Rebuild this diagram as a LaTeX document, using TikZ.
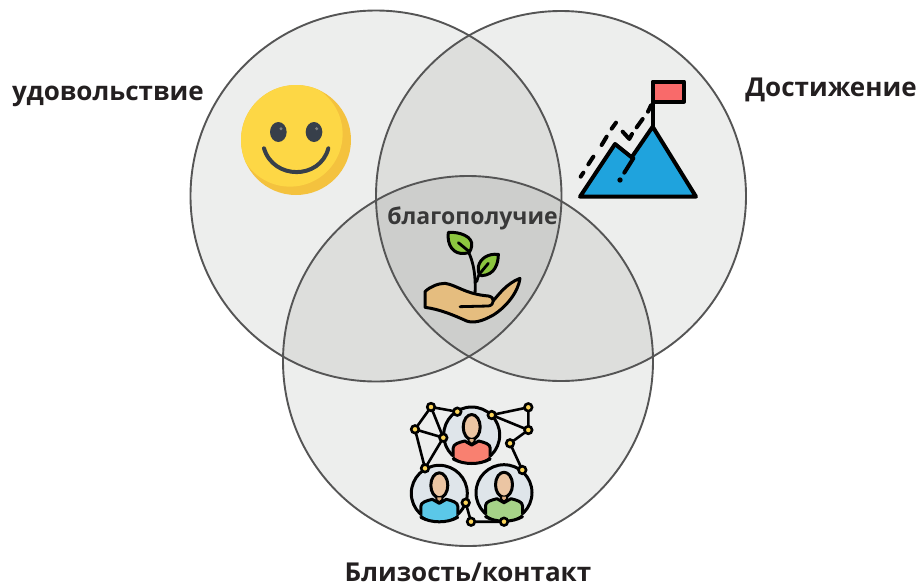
\documentclass[tikz,border=0pt]{standalone}
\usepackage{fontspec}
\setmainfont{Open Sans}
\definecolor{txt}{HTML}{231F20}
\definecolor{ring}{HTML}{555555}
\definecolor{skin}{HTML}{EBC5A3}
\definecolor{discfill}{HTML}{DFE5EA}
\definecolor{shirtred}{HTML}{F98070}
\definecolor{shirtblue}{HTML}{5BC8E8}
\definecolor{shirtgreen}{HTML}{A6D388}
\definecolor{knotfill}{HTML}{FCD55A}
\definecolor{tint}{HTML}{040C02}
\tikzset{
  venn/.style={draw=none,fill=tint,fill opacity=.07},
  vennline/.style={draw=ring,line width=1.9pt},
  label/.style={font=\bfseries\fontsize{26}{30}\selectfont,text=txt,inner sep=0pt,anchor=center},
  icon/.style={x=.33333pt,y=-.33333pt,line join=round,line cap=round},
  ink/.style={draw=black,line width=3pt},
  knot/.style={draw=black,line width=2.6pt,fill=knotfill},
  edge/.style={draw=black,line width=2.6pt}
}
\newcommand{\personicon}[3]{%
\begin{scope}[shift={(#1pt,-#2pt)},x=1pt,y=-1pt,line join=round,line cap=round]
  \path[ink,fill=discfill] (0,0) circle[radius=28pt];
  \begin{scope}
    \clip (0,0) circle[radius=28pt];
    \path[ink,fill=#3] (-18.5,32) -- (-18.5,13) .. controls (-18.5,9) and (-13,7.5) .. (-7,6) -- (0,10) -- (7,6) .. controls (13,7.5) and (18.5,9) .. (18.5,13) -- (18.5,32) -- cycle;
  \end{scope}
  \path[draw=black,line width=3pt] (-18.5,24) .. controls (-8,30) and (8,30) .. (18.5,24);
  \path[ink,fill=skin] (0,-8) ellipse[x radius=8.5pt,y radius=12.5pt];
  \path[draw=black,line width=2pt,fill=skin!70!brown] (-3,4) -- (-3,6.5) -- (0,9) -- (3,6.5) -- (3,4);
\end{scope}}
\begin{document}
\begin{tikzpicture}[x=1pt,y=-1pt]
\useasboundingbox (0,0) rectangle (919,587);
% venn
\path[venn] (376,196) circle[radius=185.5pt];
\path[venn] (561,196) circle[radius=185pt];
\path[venn] (468,361) circle[radius=185pt];
\path[vennline] (376,196) circle[radius=185.5pt];
\path[vennline] (561,196) circle[radius=185pt];
\path[vennline] (468,361) circle[radius=185pt];
% labels
\node[label] (pleasure) at (108,96) {удовольствие};
\node[label] (achieve) at (831,90) {Достижение};
\node[label,font=\bfseries\fontsize{23}{28}\selectfont,text=black!78] (wellbeing) at (472.5,218) {благополучие};
\node[label] (contact) at (468,572) {Близость/контакт};
% smiley
\begin{scope}[shift={(235pt,-80pt)},icon]
  \fill[color={rgb,255:red,244;green,194;blue,62}] (183,180) circle[radius=165];
  \begin{scope}
    \clip (183,180) circle[radius=165];
    \fill[color={rgb,255:red,253;green,215;blue,69}] (165,162) circle[radius=158];
  \end{scope}
  \fill[color={rgb,255:red,55;green,63;blue,74}] (130,156) ellipse[x radius=25,y radius=30];
  \fill[color={rgb,255:red,55;green,63;blue,74}] (237,156) ellipse[x radius=25,y radius=30];
  \fill[gray] (138,146) circle[radius=5];
  \fill[gray] (245,146) circle[radius=5];
  \draw[color={rgb,255:red,55;green,63;blue,74},line width=4pt] (87,205) .. controls (115,300) and (255,300) .. (280,205);
\end{scope}
% mountain
\begin{scope}[shift={(570pt,-70pt)},icon]
  \draw[line width=4pt,fill={rgb,255:red,31;green,163;blue,221}] (30,380) -- (135,222) -- (185,262) -- (248,170) -- (378,380) -- cycle;
  \draw[line width=4pt] (248,170) -- (248,100);
  \draw[line width=4pt,fill={rgb,255:red,249;green,106;blue,106}] (248,35) rectangle (342,95);
  \draw[line width=4pt] (32,320) -- (40,308);
  \draw[line width=4pt] (55,283) -- (70,260);
  \draw[line width=4pt] (95,225) -- (110,200);
  \draw[line width=4pt] (125,176) -- (138,158);
  \draw[line width=4pt] (158,185) -- (178,207) -- (186,192);
  \draw[line width=4pt] (200,172) -- (218,147);
  \draw[line width=4pt] (234,125) -- (243,106);
  \draw[line width=4pt] (163,308) -- (190,265);
  \fill (150,330) circle[radius=8];
\end{scope}
% plant in hand
\begin{scope}[shift={(410pt,-220pt)},icon]
  \draw[line width=2.8pt] (195,225) .. controls (197,180) and (195,130) .. (170,85);
  \draw[line width=2.8pt] (200,185) .. controls (205,165) and (212,150) .. (225,135);
  \draw[ink,fill={rgb,255:red,140;green,198;blue,63}] (115,37) .. controls (150,35) and (190,50) .. (185,78) .. controls (182,92) and (180,100) .. (165,100) .. controls (130,105) and (110,75) .. (115,37) -- cycle;
  \draw[line width=2.8pt] (145,68) -- (178,95);
  \draw[ink,fill={rgb,255:red,140;green,198;blue,63}] (265,103) .. controls (265,130) and (255,165) .. (215,167) .. controls (205,168) and (205,150) .. (205,140) .. controls (210,115) and (235,100) .. (265,103) -- cycle;
  \draw[line width=2.8pt] (235,130) -- (210,160);
  \draw[ink,fill={rgb,255:red,229;green,189;blue,127}] (45,262) -- (45,215) .. controls (60,200) and (85,190) .. (105,190) .. controls (140,195) and (165,222) .. (235,228) .. controls (245,230) and (250,235) .. (250,242) .. controls (265,225) and (290,190) .. (330,175) .. controls (325,215) and (290,260) .. (250,285) .. controls (215,305) and (190,310) .. (170,303) .. controls (130,285) and (90,268) .. (45,262) -- cycle;
  \draw[line width=2.8pt] (150,260) -- (235,258) .. controls (245,257) and (250,250) .. (250,242);
\end{scope}
% network
\coordinate (n1) at (431,407);
\coordinate (n2) at (457.3,411.7);
\coordinate (n3) at (491.7,415);
\coordinate (n4) at (528.3,407.3);
\coordinate (n5) at (528.3,430);
\coordinate (n6) at (510,443.3);
\coordinate (n7) at (522.3,470);
\coordinate (n8) at (415,429.3);
\coordinate (n9) at (443.3,437.7);
\coordinate (n10) at (425,468.3);
\coordinate (n11) at (465.7,502.7);
\coordinate (n12) at (471,521.7);
\coordinate (n13) at (504,521.7);
\path[edge] (n1)--(n2) (n1)--(n8) (n1)--(n9) (n8)--(n9) (n8)--(n10) (n10)--(n9)
  (n3)--(n4) (n3)--(n5) (n4)--(n5) (n5)--(n6) (n6)--(n7) (n11)--(n12) (n12)--(n13);
\personicon{471.7}{435}{shirtred}
\personicon{439.3}{493.3}{shirtblue}
\personicon{504}{492.7}{shirtgreen}
\foreach \k in {n1,n2,n3,n4,n5,n6,n7,n8,n9,n10,n11,n12,n13}
  \path[knot] (\k) circle[radius=3.8pt];
\end{tikzpicture}
\end{document}
